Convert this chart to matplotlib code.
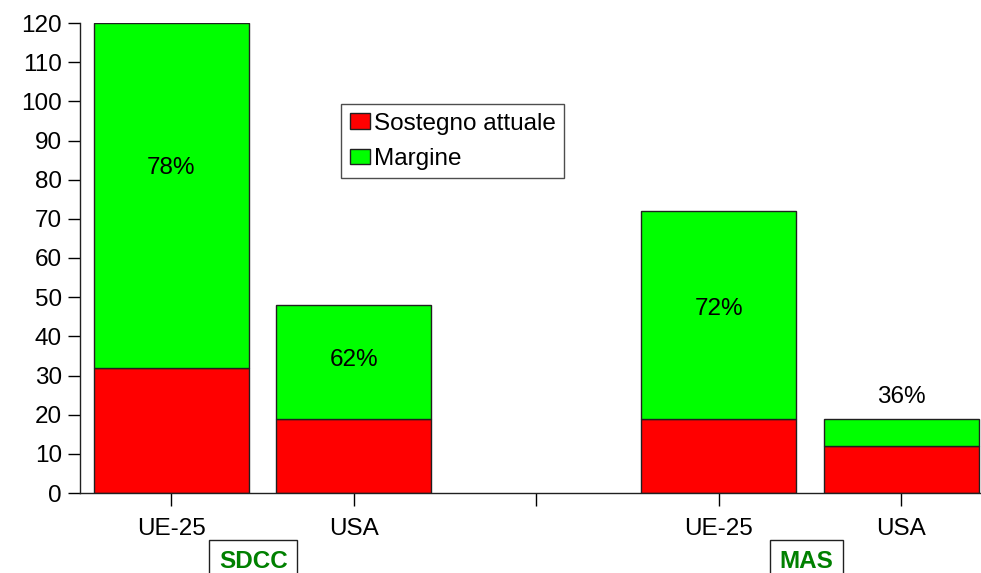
import matplotlib
matplotlib.use("Agg")
import matplotlib.pyplot as plt
from matplotlib.patches import Patch
import matplotlib.transforms as mtransforms

plt.rcParams['font.family'] = ['Liberation Sans', 'DejaVu Sans']

# Data
categories = ["UE-25", "USA", "", "UE-25", "USA"]
sostegno = [32, 19, 0, 19, 12]
totale = [120, 48, 0, 72, 19]
margine = [t - s for t, s in zip(totale, sostegno)]
pct_labels = ["78%", "62%", "", "72%", "36%"]
pct_label_y = [83, 34, 0, 47, 24.5]
group_labels = ["SDCC", "MAS"]
group_x = [0.45, 3.48]
yticks = list(range(0, 121, 10))

W, H = 981, 573
FS = 17.5
fig = plt.figure(figsize=(W / 100, H / 100), dpi=100)
ax = fig.add_axes([80 / W, (H - 493) / H, (W - 80) / W, 470 / H])

x = list(range(len(categories)))
red = "#FF0000"
green = "#00FF00"
bw = 0.85
ax.bar(x, sostegno, width=bw, color=red, edgecolor="#202020", linewidth=1.0, zorder=2)
ax.bar(x, margine, bottom=sostegno, width=bw, color=green, edgecolor="#202020",
       linewidth=1.0, zorder=2)
# hide the empty slot
for i, t in enumerate(totale):
    if t == 0:
        ax.patches[i].set_visible(False)
        ax.patches[len(totale) + i].set_visible(False)

for xi, lab, yy in zip(x, pct_labels, pct_label_y):
    if lab:
        ax.text(xi, yy, lab, ha="center", va="center", fontsize=FS, color="black", zorder=3)

ax.set_xlim(-0.5, -0.5 + (W - 80) / 182.5)
ax.set_ylim(0, 120)
ax.set_yticks(yticks)
ax.set_xticks(x)
ax.set_xticklabels(categories)
ax.tick_params(axis="y", direction="out", length=9, width=1, labelsize=FS, pad=4)
ax.tick_params(axis="x", direction="out", length=9, width=1, labelsize=FS, pad=9)
for s in ("top", "right"):
    ax.spines[s].set_visible(False)
for s in ("left", "bottom"):
    ax.spines[s].set_linewidth(1.0)
    ax.spines[s].set_color("#202020")

handles = [Patch(facecolor=red, edgecolor="#202020", label="Sostegno attuale"),
           Patch(facecolor=green, edgecolor="#202020", label="Margine")]
leg = fig.legend(handles=handles, loc="upper left",
                 bbox_to_anchor=(341 / W, 1 - 104 / H), bbox_transform=fig.transFigure,
                 fontsize=FS, frameon=True, fancybox=False, edgecolor="#202020",
                 handlelength=0.85, handleheight=0.6, handletextpad=0.15,
                 borderpad=0.35, labelspacing=0.55, borderaxespad=0)
leg.get_frame().set_linewidth(1.0)

trans = mtransforms.blended_transform_factory(ax.transData, fig.transFigure)
for gx, gl in zip(group_x, group_labels):
    ax.text(gx, 12 / H, gl, transform=trans, ha="center", va="center",
            fontsize=FS, fontweight="bold", color="#008000", clip_on=False,
            bbox=dict(boxstyle="square,pad=0.4", facecolor="white",
                      edgecolor="#202020", linewidth=1.0))

fig.savefig("out.png", dpi=100, facecolor="white")
